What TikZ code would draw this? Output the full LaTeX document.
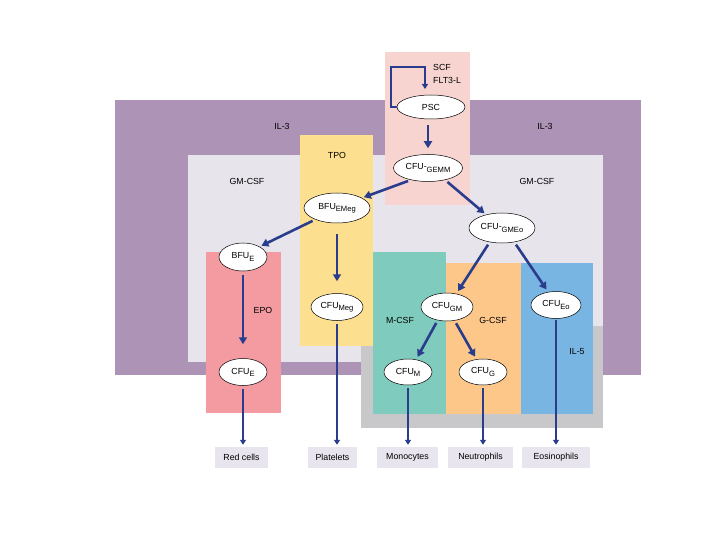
\documentclass[tikz,border=0pt]{standalone}
\usepackage{fontspec}
\setmainfont{Liberation Sans}
\usetikzlibrary{arrows.meta,shapes.geometric}
\definecolor{ilthree}{HTML}{AD93B5}
\definecolor{gmcsf}{HTML}{E8E4EC}
\definecolor{pscpink}{HTML}{F8D4D1}
\definecolor{tpoyel}{HTML}{FDE08F}
\definecolor{epored}{HTML}{F49AA1}
\definecolor{mteal}{HTML}{7FCBBE}
\definecolor{gorange}{HTML}{FEC78A}
\definecolor{ilblue}{HTML}{79B5E2}
\definecolor{graybox}{HTML}{C8C8CA}
\definecolor{arrblue}{HTML}{2A3D8C}
\definecolor{outbox}{HTML}{E9E5EE}
\newcommand{\cellsub}[1]{\raisebox{-0.45ex}{\fontsize{7.6}{8}\selectfont #1}}
\tikzset{
  ell/.style={ellipse, draw=black, line width=0.5pt, fill=white, inner sep=0pt, font=\fontsize{8.8}{10}\selectfont},
  arr/.style={draw=arrblue, line width=2.6pt, -{Triangle[length=7pt,width=8pt]}},
  outarr/.style={draw=arrblue, line width=1.8pt, -{Triangle[length=5pt,width=6pt]}},
  looparr/.style={draw=arrblue, line width=1.4pt, -{Triangle[length=5pt,width=6pt]}},
  lab/.style={font=\fontsize{8.8}{10}\selectfont, inner sep=0pt},
  outb/.style={fill=outbox, inner sep=0pt, minimum height=21pt, font=\fontsize{8.8}{10}\selectfont},
}
\begin{document}
\begin{tikzpicture}[x=1pt,y=-1pt]
\useasboundingbox (0,0) rectangle (720,540);
\fill[white] (0,0) rectangle (720,540);
% background regions
\fill[ilthree] (115,100) rectangle (641,375);
\fill[gmcsf] (188,155) rectangle (603,362);
\fill[graybox] (361,326) rectangle (603,428);
\fill[pscpink] (385,52) rectangle (470,205);
\fill[tpoyel] (300,135) rectangle (373,346);
\fill[epored] (206,252) rectangle (281,413);
\fill[mteal] (373,252) rectangle (446,414);
\fill[gorange] (446,263) rectangle (521,414);
\fill[ilblue] (521,263) rectangle (593,414);
% region labels
\node[lab] (il3a) at (282,126) {IL-3};
\node[lab] (il3b) at (545,126) {IL-3};
\node[lab] (gma) at (247,181) {GM-CSF};
\node[lab] (gmb) at (537,181) {GM-CSF};
\node[lab] (tpo) at (337,155) {TPO};
\node[lab] (epo) at (263,310) {EPO};
\node[lab] (mcsf) at (400,320) {M-CSF};
\node[lab] (gcsf) at (493,320) {G-CSF};
\node[lab] (il5) at (577,352) {IL-5};
\node[lab, anchor=west] (scf) at (433,67) {SCF};
\node[lab, anchor=west] (flt) at (433,80) {FLT3-L};
% cells
\node[ell, minimum width=68pt, minimum height=24pt] (psc) at (431,107) {PSC};
\node[ell, minimum width=69pt, minimum height=27pt] (gemm) at (428,168) {CFU-\cellsub{GEMM}};
\node[ell, minimum width=66pt, minimum height=30pt] (bfuemeg) at (337,208) {BFU\cellsub{EMeg}};
\node[ell, minimum width=66pt, minimum height=30pt] (gmeo) at (502,228) {CFU-\cellsub{GMEo}};
\node[ell, minimum width=48pt, minimum height=28pt] (bfue) at (243,257) {BFU\cellsub{E}};
\node[ell, minimum width=52pt, minimum height=27pt] (cfumeg) at (337,307) {CFU\cellsub{Meg}};
\node[ell, minimum width=52pt, minimum height=28pt] (cfugm) at (447,307) {CFU\cellsub{GM}};
\node[ell, minimum width=50pt, minimum height=27pt] (cfueo) at (556,305) {CFU\cellsub{Eo}};
\node[ell, minimum width=48pt, minimum height=27pt] (cfue) at (243,372) {CFU\cellsub{E}};
\node[ell, minimum width=48pt, minimum height=26pt] (cfum) at (408,372) {CFU\cellsub{M}};
\node[ell, minimum width=48pt, minimum height=26pt] (cfug) at (483,372) {CFU\cellsub{G}};
% outputs
\node[outb, minimum width=53pt] (red) at (241.5,457.5) {Red cells};
\node[outb, minimum width=49pt] (plat) at (332.5,457.5) {Platelets};
\node[outb, minimum width=61pt] (mono) at (407.5,457.5) {Monocytes};
\node[outb, minimum width=65pt] (neut) at (480.5,457.5) {Neutrophils};
\node[outb, minimum width=68pt] (eos) at (556,457.5) {Eosinophils};
% self-renewal loop
\coordinate (lpa) at (391,67);
\coordinate (lpb) at (425,89);
\draw[looparr] (psc.west) -| (lpa) -| (lpb);
% arrows
\draw[arr, shorten <=6pt, shorten >=6pt] (psc.south -| gemm.north) -- (gemm.north);
\draw[arr, shorten <=3pt, shorten >=2pt] (gemm.215) -- (bfuemeg.22);
\draw[arr, shorten <=3pt, shorten >=2pt] (gemm.325) -- (gmeo.140);
\draw[arr, shorten <=3pt, shorten >=2pt] (bfuemeg.208) -- (bfue.32);
\draw[arr, shorten <=4pt, shorten >=14pt] (bfue.south) -- (cfue.north);
\draw[arr, shorten <=11pt, shorten >=12pt] (bfuemeg.south) -- (cfumeg.north);
\draw[arr, shorten <=3pt, shorten >=3pt] (gmeo.229) -- (cfugm.55);
\draw[arr, shorten <=3pt, shorten >=3pt] (gmeo.311) -- (cfueo.121);
\draw[arr, shorten <=3pt, shorten >=3pt] (cfugm.235) -- (cfum.57);
\draw[arr, shorten <=3pt, shorten >=3pt] (cfugm.299) -- (cfug.117);
% outputs arrows
\draw[outarr, shorten <=3pt, shorten >=2pt] (cfue.south) -- (cfue.south |- red.north);
\draw[outarr, shorten <=3pt, shorten >=2pt] (cfumeg.south) -- (cfumeg.south |- plat.north);
\draw[outarr, shorten <=3pt, shorten >=2pt] (cfum.south) -- (cfum.south |- mono.north);
\draw[outarr, shorten <=3pt, shorten >=2pt] (cfug.south) -- (cfug.south |- neut.north);
\draw[outarr, shorten <=1pt, shorten >=2pt] (cfueo.south) -- (cfueo.south |- eos.north);
\end{tikzpicture}
\end{document}
